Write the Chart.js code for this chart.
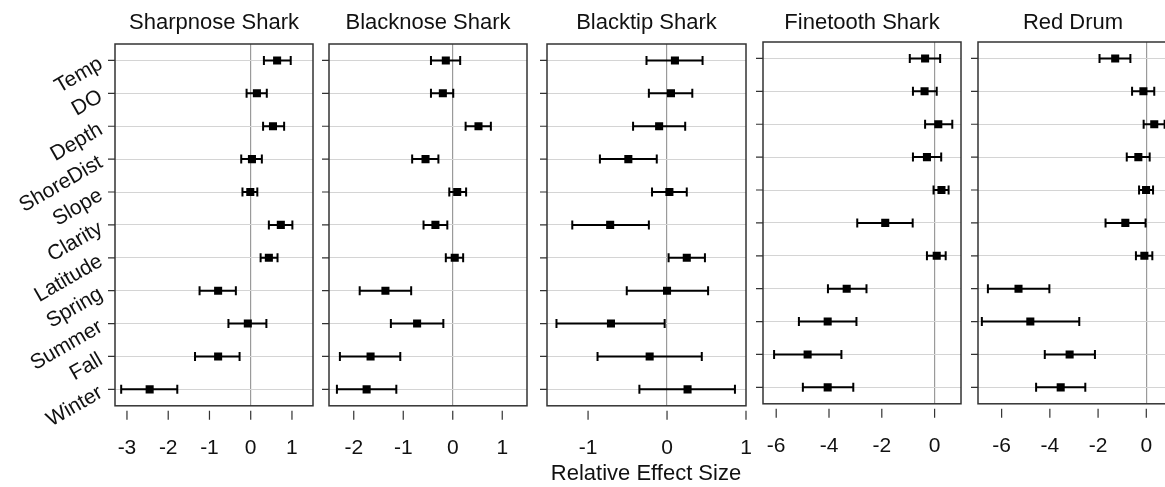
<!DOCTYPE html>
<html>
<head>
<meta charset="utf-8">
<script src="https://cdn.jsdelivr.net/npm/chart.js@4.4.0/dist/chart.umd.min.js"></script>
<style>
html, body { margin: 0; padding: 0; background: #fff; overflow: hidden; }
#wrap { position: relative; width: 1165px; height: 487px; overflow: hidden; }
#wrap canvas { position: absolute; }
#eixoX { position: absolute; left: 496px; width: 300px; top: 460px; text-align: center;
  font: 22px 'Liberation Sans', Arial, sans-serif; color: #111; line-height: 26px; }
</style>
</head>
<body>
<div id="wrap">
  <canvas id="g0"></canvas>
  <canvas id="g1"></canvas>
  <canvas id="g2"></canvas>
  <canvas id="g3"></canvas>
  <canvas id="g4"></canvas>
  <div id="eixoX">Relative Effect Size</div>
</div>
<script>
// variaveis (de cima pra baixo)
const variaveis = ['Temp', 'DO', 'Depth', 'ShoreDist', 'Slope', 'Clarity', 'Latitude', 'Spring', 'Summer', 'Fall', 'Winter'];
const especies = ['Sharpnose Shark', 'Blacknose Shark', 'Blacktip Shark', 'Finetooth Shark', 'Red Drum'];

// estimativa + intervalo
const sharpnoseEst = [0.64, 0.15, 0.54, 0.03, -0.01, 0.73, 0.44, -0.79, -0.07, -0.79, -2.45];
const sharpnoseLo  = [0.32, -0.10, 0.30, -0.23, -0.20, 0.44, 0.24, -1.24, -0.54, -1.35, -3.14];
const sharpnoseHi  = [0.97, 0.39, 0.81, 0.27, 0.16, 1.01, 0.65, -0.36, 0.38, -0.27, -1.78];

const blacknoseEst = [-0.14, -0.20, 0.52, -0.55, 0.09, -0.35, 0.04, -1.36, -0.72, -1.66, -1.74];
const blacknoseLo  = [-0.44, -0.44, 0.26, -0.82, -0.07, -0.59, -0.14, -1.88, -1.25, -2.28, -2.34];
const blacknoseHi  = [0.15, 0.01, 0.77, -0.29, 0.27, -0.11, 0.21, -0.84, -0.19, -1.06, -1.14];

const blacktipEst = [0.10, 0.05, -0.10, -0.49, 0.03, -0.72, 0.25, 0.00, -0.71, -0.22, 0.26];
const blacktipLo  = [-0.26, -0.23, -0.43, -0.85, -0.19, -1.20, 0.02, -0.51, -1.40, -0.88, -0.35];
const blacktipHi  = [0.45, 0.32, 0.23, -0.13, 0.25, -0.23, 0.48, 0.52, -0.03, 0.44, 0.86];

const finetoothEst = [-0.36, -0.38, 0.14, -0.29, 0.26, -1.87, 0.08, -3.33, -4.05, -4.81, -4.05];
const finetoothLo  = [-0.94, -0.82, -0.36, -0.82, -0.04, -2.93, -0.29, -4.04, -5.14, -6.08, -4.99];
const finetoothHi  = [0.21, 0.08, 0.67, 0.25, 0.53, -0.83, 0.42, -2.58, -2.96, -3.53, -3.08];

const redDrumEst = [-1.29, -0.12, 0.33, -0.33, -0.01, -0.87, -0.08, -5.30, -4.81, -3.18, -3.55];
const redDrumLo  = [-1.94, -0.59, -0.11, -0.81, -0.30, -1.69, -0.43, -6.57, -6.82, -4.21, -4.57];
const redDrumHi  = [-0.66, 0.33, 0.76, 0.14, 0.28, -0.03, 0.25, -4.02, -2.78, -2.13, -2.53];

// ticks do eixo x
const ticksSharpnose = [-3, -2, -1, 0, 1];
const ticksBlacknose = [-2, -1, 0, 1];
const ticksBlacktip = [-1, 0, 1];
const ticksFinetooth = [-6, -4, -2, 0];
const ticksRedDrum = [-6, -4, -2, 0];

const dados = [
    [sharpnoseEst, sharpnoseLo, sharpnoseHi, ticksSharpnose],
    [blacknoseEst, blacknoseLo, blacknoseHi, ticksBlacknose],
    [blacktipEst, blacktipLo, blacktipHi, ticksBlacktip],
    [finetoothEst, finetoothLo, finetoothHi, ticksFinetooth],
    [redDrumEst, redDrumLo, redDrumHi, ticksRedDrum]
];

// posicao de cada painel na pagina
const paineis = [
    { left: 0,   width: 320, padL: 115, padR: 7,  min: -3.29, max: 1.51, dy: 0 },
    { left: 320, width: 215, padL: 9,   padR: 8,  min: -2.5,  max: 1.5,  dy: 0 },
    { left: 535, width: 220, padL: 12,  padR: 9,  min: -1.52, max: 1.0,  dy: 0 },
    { left: 755, width: 215, padL: 8,   padR: 9,  min: -6.5,  max: 1.0,  dy: -2 },
    { left: 970, width: 220, padL: 8,   padR: 22, min: -6.98, max: 0.9,  dy: -2 }
];

const fonte = "'Liberation Sans', Arial, sans-serif";
Chart.defaults.font.family = fonte;
Chart.defaults.color = '#111';

const desenhos = {
    id: 'desenhos',
    beforeDatasetsDraw(chart) {
        const { ctx, scales: { x, y } } = chart;
        const p = chart.options.plugins.desenhos;
        ctx.save();
        ctx.strokeStyle = '#000';
        ctx.lineWidth = 2;
        p.lo.forEach((lo, i) => {
            const yy = y.getPixelForValue(i);
            const x1 = x.getPixelForValue(lo);
            const x2 = x.getPixelForValue(p.hi[i]);
            ctx.beginPath();
            ctx.moveTo(x1, yy); ctx.lineTo(x2, yy);
            ctx.moveTo(x1, yy - 4.5); ctx.lineTo(x1, yy + 4.5);
            ctx.moveTo(x2, yy - 4.5); ctx.lineTo(x2, yy + 4.5);
            ctx.stroke();
        });
        ctx.restore();
    },
    afterDraw(chart) {
        const { ctx, chartArea: a, scales: { x, y } } = chart;
        const p = chart.options.plugins.desenhos;
        ctx.save();
        ctx.strokeStyle = '#333';
        ctx.lineWidth = 1.5;
        ctx.strokeRect(a.left, a.top, a.right - a.left, a.bottom - a.top);

        ctx.lineWidth = 1.2;
        ctx.beginPath();
        variaveis.forEach((v, i) => {
            const yy = y.getPixelForValue(i);
            ctx.moveTo(a.left - 7, yy); ctx.lineTo(a.left, yy);
        });
        x.ticks.forEach(t => {
            const xx = x.getPixelForValue(t.value);
            ctx.moveTo(xx, a.bottom + 5); ctx.lineTo(xx, a.bottom + 14);
        });
        ctx.stroke();

        if (p.rotulos) {
            ctx.fillStyle = '#111';
            ctx.font = '21px ' + fonte;
            ctx.textAlign = 'right';
            ctx.textBaseline = 'middle';
            variaveis.forEach((v, i) => {
                const yy = y.getPixelForValue(i);
                ctx.save();
                ctx.translate(a.left - 14, yy + 2);
                ctx.rotate(-Math.PI / 6);
                ctx.fillText(v, 0, 0);
                ctx.restore();
            });
        }
        ctx.restore();
    }
};

paineis.forEach((pn, k) => {
    const [est, lo, hi, tks] = dados[k];
    const cv = document.getElementById('g' + k);
    cv.width = pn.width;
    cv.height = 487;
    cv.style.left = pn.left + 'px';
    cv.style.top = '0px';

    new Chart(cv.getContext('2d'), {
        type: 'scatter',
        data: {
            datasets: [{
                data: est.map((v, i) => ({ x: v, y: i })),
                pointStyle: 'rect',
                pointRadius: 5.7,
                pointHoverRadius: 5.7,
                backgroundColor: '#000',
                borderWidth: 0
            }]
        },
        options: {
            responsive: false,
            animation: false,
            events: [],
            layout: { padding: { left: pn.padL, right: pn.padR, top: 0, bottom: 26 - pn.dy } },
            plugins: {
                legend: { display: false },
                tooltip: { enabled: false },
                title: {
                    display: true,
                    text: especies[k],
                    fullSize: false,
                    font: { size: 22, weight: 'normal' },
                    color: '#111',
                    padding: { top: 10, bottom: 7.6 + pn.dy }
                },
                desenhos: { lo: lo, hi: hi, rotulos: k === 0 }
            },
            scales: {
                x: {
                    type: 'linear',
                    min: pn.min,
                    max: pn.max,
                    afterBuildTicks: s => { s.ticks = tks.map(v => ({ value: v })); },
                    ticks: { font: { size: 21 }, color: '#111', padding: 0 },
                    grid: {
                        drawTicks: true,
                        tickLength: 30,
                        tickColor: 'rgba(0,0,0,0)',
                        color: c => (c.tick && c.tick.value === 0) ? '#9a9a9a' : 'rgba(0,0,0,0)',
                        lineWidth: 1.2
                    },
                    border: { display: false }
                },
                y: {
                    type: 'linear',
                    min: -0.5,
                    max: 10.5,
                    reverse: true,
                    afterBuildTicks: s => { s.ticks = variaveis.map((v, i) => ({ value: i })); },
                    ticks: { display: false },
                    grid: { drawTicks: false, color: '#d4d4d4', lineWidth: 1 },
                    border: { display: false }
                }
            }
        },
        plugins: [desenhos]
    });
});
</script>
</body>
</html>
